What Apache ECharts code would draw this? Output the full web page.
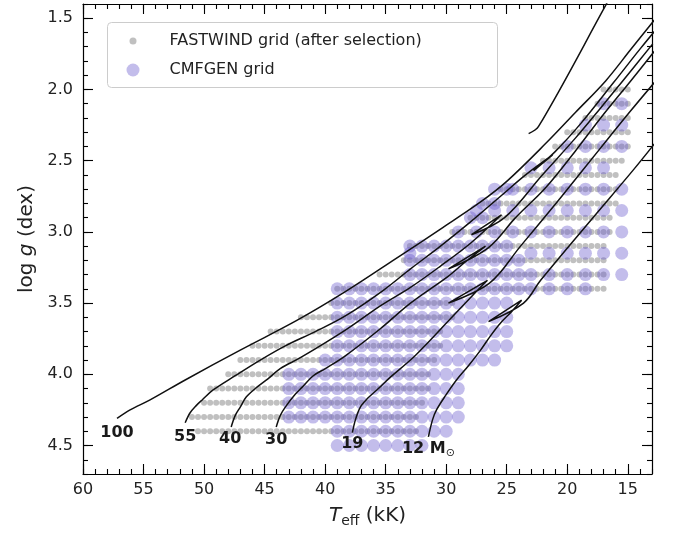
<!DOCTYPE html>
<html><head><meta charset="utf-8">
<script src="https://cdn.jsdelivr.net/npm/echarts@6/dist/echarts.min.js"></script>
<style>html,body{margin:0;padding:0;background:#fff}#c{width:675px;height:533px}</style>
</head><body><div id="c"></div>
<script>
const FONT = 'DejaVu Sans';
const xMajorTicks = [60,55,50,45,40,35,30,25,20,15];
const yMajorTicks = [1.5,2.0,2.5,3.0,3.5,4.0,4.5];

// FASTWIND grid rows (after selection): log g, hottest and coolest Teff (kK), spacing 0.5 kK
const fastwindLogg = [2.0,2.1,2.2,2.3,2.4,2.5,2.6,2.7,2.8,2.9,3.0,3.1,3.2,3.3,3.4,3.5,3.6,3.7,3.8,3.9,4.0,4.1,4.2,4.3,4.4];
const fastwindTeffHot = [17,17.5,18.5,20,21,22,23.5,25.5,27,28,29.5,33,33.5,35.5,39,39.5,42,44.5,46,47,48,49.5,50,51,50.5];
const fastwindTeffCool = [15,15,15,15,15,15.5,16,16,16,16.5,16.5,17,17,17,17,29.5,29.5,30.5,30.5,31,31.5,31.5,32,32.5,32.5];
const fastwindStep = 0.5;

// CMFGEN grid, hot part: rows with 1 kK spacing
const cmfgenHotLogg = [3.1,3.2,3.3,3.4,3.5,3.6,3.7,3.8,3.9,4.0,4.1,4.2,4.3,4.4,4.5];
const cmfgenHotTeffMax = [33,33,33,39,39,39,39,39,40,43,43,43,43,39,39];
const cmfgenHotTeffMin = [25,24,24,24,25,25,25,25,26,29,29,29,29,30,32];
const cmfgenHotStep = 1;
// CMFGEN grid, cool part
const cmfgenCoolLogg = [2.1,2.25,2.4,2.55,2.7,2.85,3.0,3.15,3.3,3.4];
const cmfgenCoolTeff = [
  [17,15.5],
  [18.5,17,15.5],
  [20,18.5,17,15.5],
  [23,21.5,20,18.5,17],
  [26,24.5,23,21.5,20,18.5,17,15.5],
  [27.5,26,24.5,23,21.5,20,18.5,17,15.5],
  [29,27.5,26,24.5,23,21.5,20,18.5,17,15.5],
  [23,21.5,20,18.5,17,15.5],
  [23,21.5,20,18.5,17,15.5],
  [23,21.5,20,18.5]
];
const cmfgenExtraTeff = [25,27,26,28,27,33];
const cmfgenExtraLogg = [2.7,2.8,2.8,2.9,2.9,3.15];

// Evolutionary tracks [Teff (kK), log g]
const track100 = [[57.19,4.31],[56.11,4.25],[54.46,4.18],[51.56,4.04],[47.01,3.83],[42.30,3.62],[38.33,3.42],[34.19,3.19],[30.47,2.98],[27.16,2.79],[24.93,2.64],[21.79,2.38],[19.31,2.16],[16.83,1.94],[14.76,1.72],[12.69,1.50]];
const track55 = [[51.56,4.34],[51.15,4.27],[50.65,4.22],[50.16,4.18],[49.25,4.11],[47.43,4.01],[45.36,3.90],[43.29,3.80],[40.81,3.70],[38.33,3.59],[35.19,3.41],[32.95,3.26],[30.47,3.10],[27.99,2.93],[25.51,2.75],[23.44,2.60],[21.21,2.46],[22.78,2.57],[21.04,2.44],[18.89,2.24],[16.16,1.95],[13.93,1.71],[12.28,1.54]];
const track40 = [[47.76,4.37],[47.43,4.29],[47.01,4.23],[46.52,4.16],[45.77,4.10],[44.70,4.03],[43.71,3.96],[41.97,3.88],[38.33,3.69],[35.44,3.52],[32.95,3.39],[30.47,3.24],[27.99,3.08],[25.43,2.88],[27.91,3.02],[25.18,2.90],[22.06,2.60],[19.31,2.34],[17.24,2.13],[15.42,1.94],[12.94,1.68]];
const track30 = [[44.04,4.37],[43.71,4.29],[43.29,4.23],[42.47,4.14],[41.89,4.09],[40.98,4.01],[39.98,3.96],[38.33,3.87],[35.44,3.68],[32.95,3.50],[29.81,3.31],[28.40,3.21],[26.75,3.10],[29.81,3.26],[26.50,3.11],[24.27,2.90],[21.79,2.69],[19.31,2.43],[17.24,2.20],[14.76,1.94],[12.69,1.72]];
const track19 = [[37.75,4.41],[37.50,4.32],[37.09,4.23],[36.51,4.17],[35.60,4.10],[34.61,4.02],[32.95,3.90],[31.88,3.81],[29.65,3.61],[27.41,3.41],[26.59,3.34],[29.81,3.50],[26.42,3.36],[23.86,3.10],[20.55,2.76],[17.24,2.41],[14.76,2.15],[12.69,1.94]];
const track12 = [[31.47,4.44],[31.13,4.32],[30.80,4.25],[30.06,4.15],[29.15,4.04],[28.16,3.94],[27.16,3.83],[26.34,3.73],[25.51,3.64],[24.60,3.56],[23.77,3.48],[26.50,3.63],[23.61,3.50],[22.20,3.34],[18.07,2.92],[14.59,2.57],[12.69,2.37]];
const trackUpper = [[23.19,2.31],[22.37,2.26],[16.83,1.41],[16.60,1.37]];

const trackLabelText = ['100','55','40','30','19','12 M⊙'];
const trackLabelTeff = [57.19,51.56,47.84,44.04,37.75,31.47];
const trackLabelLogg = [4.41,4.44,4.45,4.46,4.49,4.52];

// build point lists
const fastwindPoints = [];
fastwindLogg.forEach((g,i)=>{
  for (let t = fastwindTeffCool[i]; t <= fastwindTeffHot[i] + 1e-9; t += fastwindStep) fastwindPoints.push([t,g]);
});
const cmfgenPoints = [];
cmfgenHotLogg.forEach((g,i)=>{
  for (let t = cmfgenHotTeffMin[i]; t <= cmfgenHotTeffMax[i] + 1e-9; t += cmfgenHotStep) cmfgenPoints.push([t,g]);
});
cmfgenCoolLogg.forEach((g,i)=>{ cmfgenCoolTeff[i].forEach(t=>cmfgenPoints.push([t,g])); });
cmfgenExtraTeff.forEach((t,i)=>cmfgenPoints.push([t,cmfgenExtraLogg[i]]));

const xMinorTicks = []; for (let v = 13; v <= 60; v++) xMinorTicks.push(v);
const yMinorTicks = []; for (let v = 14; v <= 47; v++) yMinorTicks.push(v/10);

const axisCol = '#000';
function xAx(pos, ticks, len, main) {
  return {
    type:'value', position:pos, inverse:true, min:13, max:60,
    axisLine:{show:main, onZero:false, lineStyle:{color:axisCol,width:1.2}},
    axisTick:{show:true, inside:true, length:len, customValues:ticks, lineStyle:{color:axisCol,width:1.1}},
    axisLabel:{show:(pos==='bottom'&&main), customValues:ticks, margin:8, fontSize:16, color:'#222', fontFamily:FONT},
    splitLine:{show:false}
  };
}
function yAx(pos, ticks, len, main) {
  return {
    type:'value', position:pos, inverse:true, min:1.4, max:4.7,
    axisLine:{show:main, onZero:false, lineStyle:{color:axisCol,width:1.2}},
    axisTick:{show:true, inside:true, length:len, customValues:ticks, lineStyle:{color:axisCol,width:1.1}},
    axisLabel:{show:(pos==='left'&&main), customValues:ticks, margin:10, fontSize:16, color:'#222', fontFamily:FONT,
      formatter:v=>Number(v).toFixed(1)},
    splitLine:{show:false}
  };
}
const xAxes = [xAx('bottom',xMajorTicks,10,true), xAx('bottom',xMinorTicks,5,false), xAx('top',xMajorTicks,10,true), xAx('top',xMinorTicks,5,false)];
xAxes[0].name = '{i|T}{s|eff}{n| (kK)}';
xAxes[0].nameLocation = 'middle';
xAxes[0].nameGap = 30;
xAxes[0].nameTextStyle = {fontFamily:FONT, fontSize:20, color:'#222', rich:{
  i:{fontFamily:FONT,fontSize:20,fontStyle:'italic',color:'#222',lineHeight:24},
  s:{fontFamily:FONT,fontSize:14,color:'#222',verticalAlign:'bottom',lineHeight:12},
  n:{fontFamily:FONT,fontSize:20,color:'#222',lineHeight:24}}};
const yAxes = [yAx('left',yMajorTicks,10,true), yAx('left',yMinorTicks,5,false), yAx('right',yMajorTicks,10,true), yAx('right',yMinorTicks,5,false)];
yAxes[0].name = '{n|log }{i|g}{n| (dex)}';
yAxes[0].nameLocation = 'middle';
yAxes[0].nameGap = 40;
yAxes[0].nameTextStyle = {fontFamily:FONT, fontSize:20, color:'#222', rich:{
  i:{fontFamily:FONT,fontSize:20,fontStyle:'italic',color:'#222'},
  n:{fontFamily:FONT,fontSize:20,color:'#222'}}};

const lineStyle = {color:'#111111', width:1.5};
function trackSeries(data) {
  return {type:'line', data:data, symbol:'none', showSymbol:false, smooth:0.35, lineStyle:lineStyle, z:5, silent:true, animation:false, clip:true};
}

const chart = echarts.init(document.getElementById('c'), null, {renderer:'canvas'});
chart.setOption({
  animation:false,
  grid:{left:83, right:23, top:4, bottom:59},
  xAxis:xAxes,
  yAxis:yAxes,
  legend:[
    {data:['FASTWIND grid (after selection)'], left:129.5, top:33, itemWidth:7, itemHeight:7, padding:0, selectedMode:false, z:20,
     textStyle:{fontSize:16, color:'#222', fontFamily:FONT, padding:[0,0,0,28]}},
    {data:['CMFGEN grid'], left:126.5, top:62, itemWidth:13, itemHeight:13, padding:0, selectedMode:false, z:20,
     textStyle:{fontSize:16, color:'#222', fontFamily:FONT, padding:[0,0,0,25]}}
  ],
  graphic:[{type:'rect', z:15, shape:{x:107.5, y:22.5, width:390, height:65, r:4},
    style:{fill:'rgba(255,255,255,0.85)', stroke:'#cccccc', lineWidth:1}}],
  series:[
    {type:'scatter', name:'FASTWIND grid (after selection)', data:fastwindPoints, symbol:'circle', symbolSize:6,
     itemStyle:{color:'#c0c0c0', opacity:1}, z:2, silent:true},
    {type:'scatter', name:'CMFGEN grid', data:cmfgenPoints, symbol:'circle', symbolSize:13,
     itemStyle:{color:'rgba(106,90,205,0.4)', opacity:1}, z:3, silent:true},
    trackSeries(track100), trackSeries(track55), trackSeries(track40), trackSeries(track30),
    trackSeries(track19), trackSeries(track12), trackSeries(trackUpper),
    {type:'scatter', data:trackLabelText.map((s,i)=>({name:s, value:[trackLabelTeff[i], trackLabelLogg[i]]})),
     symbolSize:2, itemStyle:{color:'rgba(0,0,0,0)', opacity:1}, z:8, silent:true,
     label:{show:true, position:'inside', fontFamily:FONT, color:'#1a1a1a',
       formatter:p=>p.name.indexOf('⊙')>=0 ? '{b|'+p.name.replace('⊙','')+'}{o|⊙}' : '{b|'+p.name+'}',
       rich:{b:{fontFamily:FONT,fontSize:16,fontWeight:'bold',color:'#1a1a1a',lineHeight:20},
             o:{fontFamily:FONT,fontSize:11,color:'#1a1a1a',verticalAlign:'bottom',lineHeight:12}}}}
  ]
});
</script></body></html>
